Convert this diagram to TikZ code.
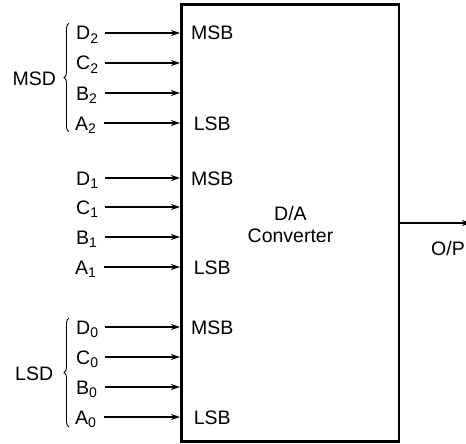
\documentclass[tikz,border=0pt]{standalone}
\usepackage{fontspec}
\setmainfont{Liberation Sans}
\usetikzlibrary{arrows.meta,decorations.pathreplacing}
\newcommand\lowidx[1]{\raisebox{-3.4pt}{\fontsize{14}{15}\selectfont #1}}

\begin{document}
\begin{tikzpicture}[x=1pt,y=-1pt,
  font=\fontsize{19.5}{22}\selectfont,
  bitlbl/.style={anchor=west, align=left, inner sep=0pt, text width=29pt, text height=14pt, text depth=0pt},
  pinlbl/.style={anchor=west, inner sep=0pt, text height=14pt, text depth=0pt},
  grouplbl/.style={inner sep=0pt, text height=14pt, text depth=0pt},
  bitarrow/.style={line width=1.2pt, -{Stealth[length=9pt,width=6pt]}},
  digitbrace/.style={decorate, decoration={brace, amplitude=5pt}, line width=0.9pt}]
  \useasboundingbox (0,0) rectangle (466,444);
  % converter block
  \node[draw, line width=2.7pt, inner sep=0pt, minimum width=217.7pt, minimum height=436.6pt] (dac) at (290.2,223) {};
  \node[align=center, inner sep=0pt] (dactext) at (290.5,224.5) {D/A\\Converter};
  % four bit lines per digit
  \foreach \d/\ya/\yb/\yc/\yd in {2/33/63/93/123, 1/178/207/237/267, 0/327/357/387/417} {
    \node[bitlbl] (D\d) at (76,\ya) {D\lowidx{\d}};
    \node[bitlbl] (C\d) at (76,\yb) {C\lowidx{\d}};
    \node[bitlbl] (B\d) at (76,\yc) {B\lowidx{\d}};
    \node[bitlbl] (A\d) at (75,\yd) {A\lowidx{\d}};
    \draw[bitarrow] (D\d) -- (D\d -| dac.west);
    \draw[bitarrow] (C\d) -- (C\d -| dac.west);
    \draw[bitarrow] (B\d) -- (B\d -| dac.west);
    \draw[bitarrow] (A\d) -- (A\d -| dac.west);
    \node[pinlbl] (msb\d) at (191,\ya) {MSB};
    \node[pinlbl] (lsb\d) at (193.6,\yd) {LSB};
  }
  % digit groups
  \draw[digitbrace] (69,131.7) -- (69,23.3);
  \node[grouplbl] (msd) at (34.2,78) {MSD};
  \draw[digitbrace] (69,427) -- (69,318);
  \node[grouplbl] (lsd) at (34.2,373) {LSD};
  % output, its tip runs off the edge
  \coordinate (out) at (471,223);
  \draw[bitarrow] (dac.east) -- (out);
  \node[pinlbl] (op) at (431,248) {O/P};
\end{tikzpicture}
\end{document}
